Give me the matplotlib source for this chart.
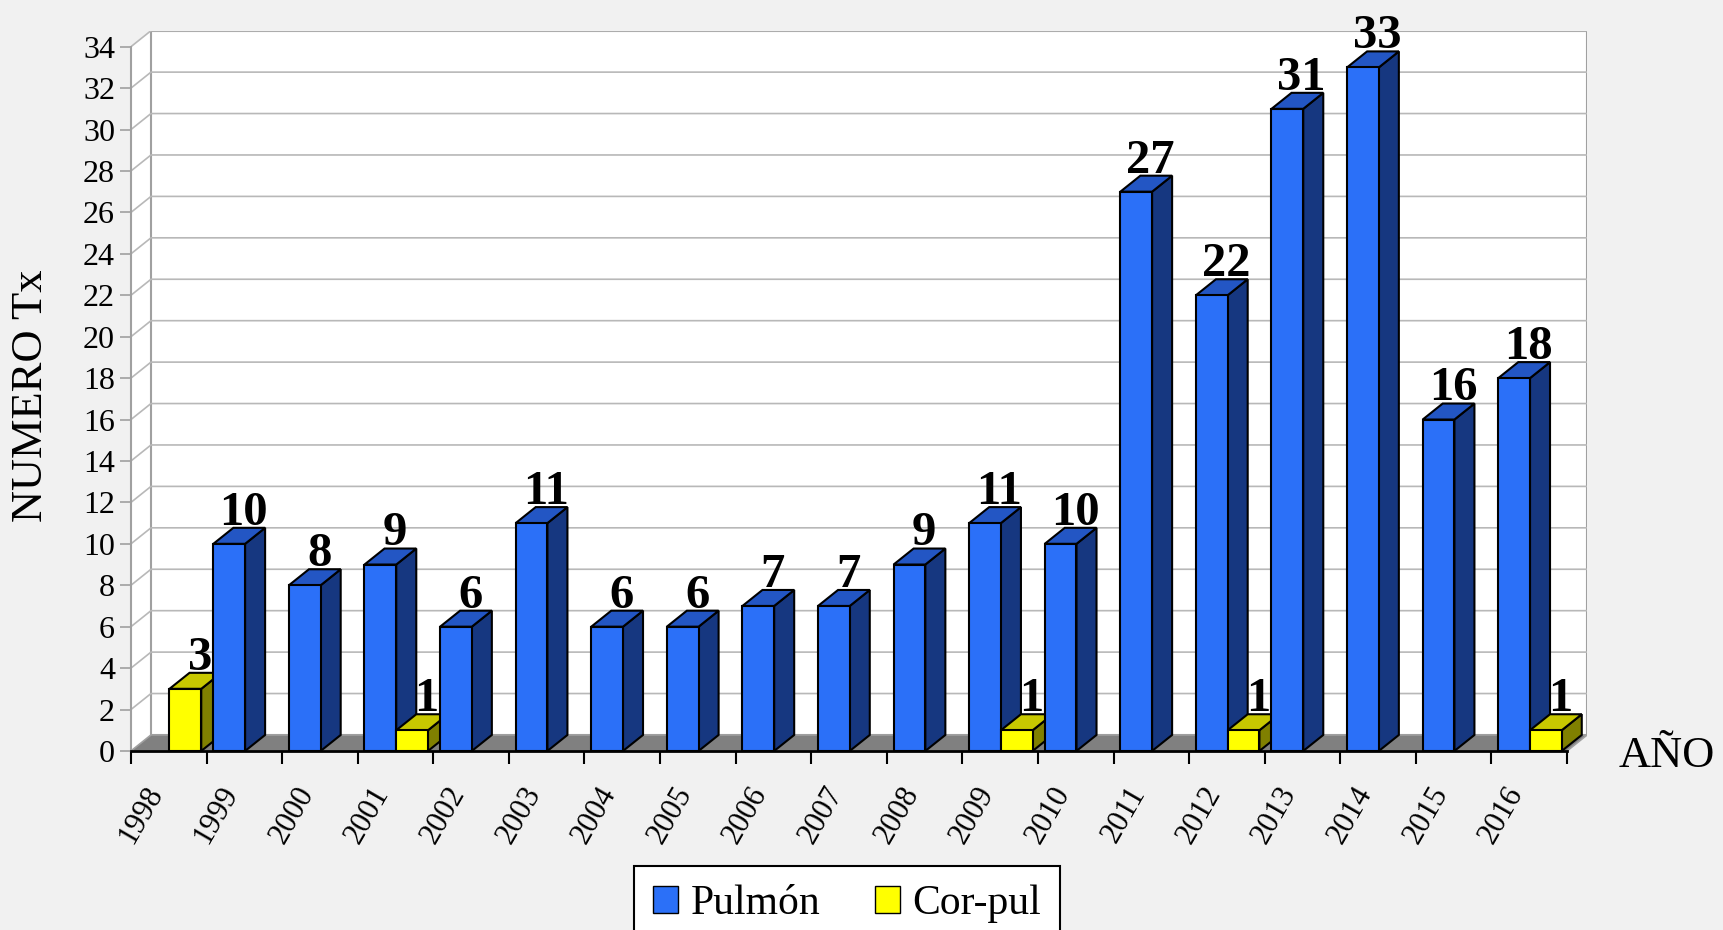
import matplotlib.pyplot as plt
from matplotlib.patches import Polygon, Rectangle, Patch

years = ['1998', '1999', '2000', '2001', '2002', '2003', '2004', '2005', '2006', '2007',
         '2008', '2009', '2010', '2011', '2012', '2013', '2014', '2015', '2016']
pulmon = [0, 10, 8, 9, 6, 11, 6, 6, 7, 7, 9, 11, 10, 27, 22, 31, 33, 16, 18]
corpul = [3, 0, 0, 1, 0, 0, 0, 0, 0, 0, 0, 1, 0, 0, 1, 0, 0, 0, 1]
yticks = list(range(0, 35, 2))

plt.rcParams['font.family'] = ['Liberation Serif', 'DejaVu Serif']

# colours for front / top / side faces
blue = ('#2b70f8', '#2356c4', '#163780')
yellow = ('#ffff00', '#c8c800', '#808000')

fig = plt.figure(figsize=(17.23, 9.30), dpi=100, facecolor='#f1f1f1')
ax = fig.add_axes([0.0760, 0.1925, 0.8451, 0.7745])
ax.set_facecolor('none')

n = len(years)
ymax = yticks[-1]
dx, dy = 0.265, 0.773   # depth of the fake 3d box, in data units
ax.set_xlim(0, n + dx)
ax.set_ylim(0, ymax + dy)

# side wall, back wall, grid and floor
ax.add_patch(Polygon([(0, 0), (dx, dy), (dx, ymax + dy), (0, ymax)], closed=True,
                     fc='white', ec='none', zorder=0))
ax.add_patch(Rectangle((dx, dy), n, ymax, fc='white', ec='#a0a0a0', lw=1.5, zorder=0.2))
for v in yticks[1:]:
    ax.plot([0, dx, n + dx], [v, v + dy, v + dy], color='#b8b8b8', lw=1.2, zorder=0.5)
ax.add_patch(Polygon([(0, 0), (n, 0), (n + dx, dy), (dx, dy)], closed=True,
                     fc='#808080', ec='#a0a0a0', lw=1.2, zorder=0.6))


def bar3d(x0, w, v, cols):
    x1 = x0 + w
    kw = dict(closed=True, ec='black', lw=1.5, joinstyle='miter', zorder=2)
    ax.add_patch(Polygon([(x1, 0), (x1 + dx, dy), (x1 + dx, v + dy), (x1, v)], fc=cols[2], **kw))
    ax.add_patch(Polygon([(x0, v), (x1, v), (x1 + dx, v + dy), (x0 + dx, v + dy)], fc=cols[1], **kw))
    ax.add_patch(Polygon([(x0, 0), (x1, 0), (x1, v), (x0, v)], fc=cols[0], **kw))
    ax.text(x1 - 0.02, v + dy + 0.15, str(v), ha='center', va='baseline',
            fontsize=35, fontweight='bold', zorder=3, clip_on=False)


bw = 0.42
for i in range(n):
    if pulmon[i]:
        bar3d(i + 0.09, bw, pulmon[i], blue)
    if corpul[i]:
        bar3d(i + 0.51, bw, corpul[i], yellow)

# axes lines and ticks
for s in ['top', 'right']:
    ax.spines[s].set_visible(False)
ax.spines['left'].set_bounds(0, ymax)
ax.spines['left'].set_color('#a0a0a0')
ax.spines['left'].set_linewidth(1.5)
ax.spines['bottom'].set_bounds(0, n)
ax.spines['bottom'].set_linewidth(2)
ax.spines['bottom'].set_zorder(2.5)

ax.set_yticks(yticks)
ax.tick_params(axis='y', length=8, width=1.2, color='#a0a0a0', labelsize=23, pad=3.5)

ax.set_xticks(range(n + 1))
ax.set_xticklabels([])
ax.set_xticks([i + 0.5 for i in range(n)], minor=True)
ax.set_xticklabels(years, minor=True, rotation=60, ha='right')
ax.tick_params(axis='x', which='major', length=9.4, width=1.5, color='black')
ax.tick_params(axis='x', which='minor', length=0, pad=22, labelsize=22)

fig.text(31 / 1723, 1 - 396 / 930, 'NUMERO Tx', rotation=90, fontsize=32, ha='center', va='center')
fig.text(1667 / 1723, 1 - 756 / 930, 'AÑO', fontsize=32, ha='center', va='center')

handles = [Patch(fc=blue[0], ec='black', label='Pulmón'),
           Patch(fc=yellow[0], ec='black', label='Cor-pul')]
leg = fig.legend(handles=handles, loc='upper center', bbox_to_anchor=(847 / 1723, 1 - 866 / 930),
                 ncol=2, fontsize=30, frameon=True, fancybox=False, edgecolor='black',
                 framealpha=1, handlelength=0.6, handleheight=0.6, handletextpad=0.3,
                 columnspacing=1.3, borderpad=0.45, borderaxespad=0)
leg.get_frame().set_linewidth(1.5)

fig.savefig('out.png', dpi=100, facecolor=fig.get_facecolor())
